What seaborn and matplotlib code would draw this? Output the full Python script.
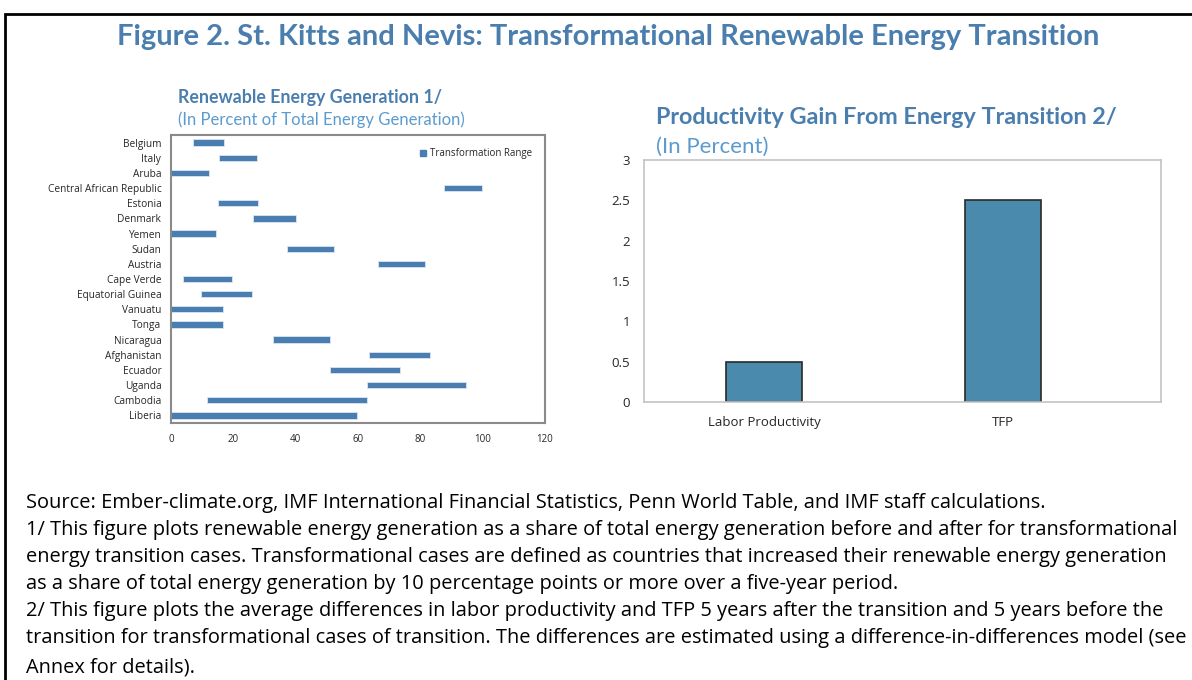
import matplotlib.pyplot as plt
import matplotlib.ticker as mticker
from matplotlib.patches import Patch, Rectangle
import pandas as pd
import seaborn as sns

sns.set_theme(style="white")
plt.rcParams["font.family"] = ["Open Sans", "DejaVu Sans"]

# Panel 1: renewable share before / after the transition (percent of total generation)
countries = ["Belgium", "Italy", "Aruba", "Central African Republic", "Estonia",
             "Denmark", "Yemen", "Sudan", "Austria", "Cape Verde",
             "Equatorial Guinea", "Vanuatu", "Tonga", "Nicaragua", "Afghanistan",
             "Ecuador", "Uganda", "Cambodia", "Liberia"]
range_start = [7.2, 15.5, 0.0, 87.7, 15.2, 26.2, 0.0, 37.3, 66.3, 3.7,
               9.6, 0.0, 0.0, 32.6, 63.5, 51.1, 62.9, 11.4, 0.0]
range_end = [17.1, 27.5, 12.3, 99.9, 28.0, 40.1, 14.3, 52.2, 81.5, 19.5,
             25.9, 16.6, 16.6, 50.9, 83.1, 73.4, 94.7, 62.9, 59.6]

# Panel 2: productivity gain (percent)
measures = ["Labor Productivity", "TFP"]
gains = [0.5, 2.5]

footnotes = [
    "Source: Ember-climate.org, IMF International Financial Statistics, Penn World Table, and IMF staff calculations.",
    "1/ This figure plots renewable energy generation as a share of total energy generation before and after for transformational",
    "energy transition cases. Transformational cases are defined as countries that increased their renewable energy generation",
    "as a share of total energy generation by 10 percentage points or more over a five-year period.",
    "2/ This figure plots the average differences in labor productivity and TFP 5 years after the transition and 5 years before the",
    "transition for transformational cases of transition. The differences are estimated using a difference-in-differences model (see",
    "Annex for details).",
]

title_blue = "#4A7EAE"
light_blue = "#5B9BD0"
bar_blue = "#4A7EB0"
W, H = 1192, 680

fig = plt.figure(figsize=(W / 100, H / 100), dpi=100)

# outer frame of the figure box
fig.patches.append(Rectangle((5 / W, -0.05), 1.1, 1 - 14 / H + 0.05, transform=fig.transFigure,
                             fill=False, edgecolor="black", linewidth=2))

fig.text(608 / W, 1 - 37 / H, "Figure 2. St. Kitts and Nevis: Transformational Renewable Energy Transition",
         ha="center", va="center", fontsize=21, fontweight="bold", color=title_blue, family=["Lato"])

# ---- left panel ----
ax1 = fig.add_axes([171 / W, 1 - 423 / H, (545 - 171) / W, (423 - 135) / H])
df1 = pd.DataFrame({"country": countries, "start": range_start, "end": range_end})
df1["width"] = df1["end"] - df1["start"]
ax1.barh(df1.index, df1["width"], left=df1["start"], height=0.42, color=bar_blue,
         edgecolor="#d8e6f2", linewidth=0.6)
ax1.set_ylim(len(countries) - 0.5, -0.5)
ax1.set_xlim(0, 120)
ax1.set_yticks(range(len(countries)))
ax1.set_yticklabels(countries, fontsize=7.3)
ax1.set_yticks([i + 0.5 for i in range(len(countries) - 1)], minor=True)
ax1.set_xticks(range(0, 121, 20))
ax1.tick_params(axis="x", labelsize=7, length=4, direction="in", color="#808080", pad=8)
ax1.tick_params(axis="y", which="major", length=0, pad=7)
ax1.tick_params(axis="y", which="minor", length=3, direction="in", color="#606060")
for s in ax1.spines.values():
    s.set_color("#8a8a8a")
    s.set_linewidth(1.5)
ax1.legend(handles=[Patch(color=bar_blue, label="Transformation Range")], loc="upper right",
           frameon=False, fontsize=7, handlelength=0.6, handleheight=0.6, handletextpad=0.5,
           bbox_to_anchor=(0.99, 0.985))
fig.text(178 / W, 1 - 98 / H, "Renewable Energy Generation 1/", ha="left", va="center",
         fontsize=12.8, fontweight="bold", color=title_blue, family=["Lato"])
fig.text(178 / W, 1 - 120 / H, "(In Percent of Total Energy Generation)", ha="left", va="center",
         fontsize=12, color=light_blue, family=["Lato"])

# ---- right panel ----
ax2 = fig.add_axes([644 / W, 1 - 402 / H, (1161 - 644) / W, (402 - 160) / H])
df2 = pd.DataFrame({"measure": measures, "gain": gains})
sns.barplot(data=df2, x="measure", y="gain", color="#4A8AAD", saturation=1, width=0.314,
            edgecolor="#2a2a2a", linewidth=1.2, ax=ax2)
ax2.set_xlim(-0.502, 1.661)
ax2.set_ylim(0, 3)
ax2.set_yticks([0, 0.5, 1, 1.5, 2, 2.5, 3])
ax2.yaxis.set_major_formatter(mticker.FuncFormatter(lambda v, p: f"{v:g}"))
ax2.set_xticks([0.5], minor=True)
ax2.set_xlabel("")
ax2.set_ylabel("")
ax2.tick_params(axis="y", labelsize=9.5, length=0, pad=10)
ax2.tick_params(axis="x", which="major", labelsize=9.5, length=0, pad=10)
ax2.tick_params(axis="x", which="minor", length=4, direction="in", color="#b0b0b0")
for s in ax2.spines.values():
    s.set_color("#c4c4c4")
    s.set_linewidth(1.2)
fig.text(656 / W, 1 - 117 / H, "Productivity Gain From Energy Transition 2/", ha="left", va="center",
         fontsize=16.8, fontweight="bold", color=title_blue, family=["Lato"])
fig.text(656 / W, 1 - 147 / H, "(In Percent)", ha="left", va="center",
         fontsize=16, color=light_blue, family=["Lato"])

# ---- footnotes ----
line_y = [503, 530, 557, 584, 611, 638, 667]
for txt, yy in zip(footnotes, line_y):
    fig.text(26 / W, 1 - yy / H, txt, ha="left", va="center", fontsize=14.4, color="black")

fig.savefig("out.png", dpi=100)
